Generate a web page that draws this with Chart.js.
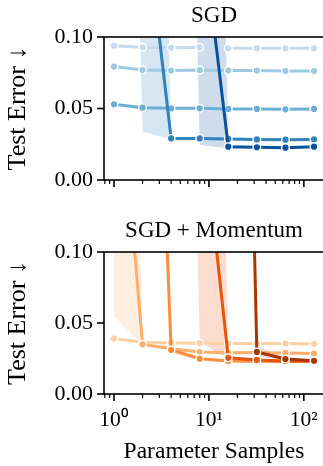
<!DOCTYPE html>
<html>
<head>
<meta charset="utf-8">
<script src="https://cdn.jsdelivr.net/npm/chart.js@4.4.1/dist/chart.umd.min.js"></script>
<style>
  html, body { margin: 0; padding: 0; background: #fff; overflow: hidden; }
  canvas { position: absolute; left: 0; }
  #sgd-chart { top: 0; }
  #momentum-chart { top: 218px; }
</style>
</head>
<body>
<canvas id="sgd-chart" width="330" height="200"></canvas>
<canvas id="momentum-chart" width="330" height="248"></canvas>
<script>
// number of parameter samples (x) for every run
const samples = [1, 2, 4, 8, 16, 32, 64, 128];

// SGD, test error per run (light -> dark)
const sgd1 = [0.0939, 0.0928, 0.0925, 0.0928, 0.0921, 0.0921, 0.0921, 0.0921];
const sgd2 = [0.0793, 0.0769, 0.0765, 0.0769, 0.0765, 0.0765, 0.0762, 0.0762];
const sgd3 = [0.0529, 0.0506, 0.0501, 0.0501, 0.0497, 0.0497, 0.0494, 0.0497];
const sgd4 = [0.9, 0.20, 0.0291, 0.0291, 0.0287, 0.0284, 0.0282, 0.0284];
const sgd5 = [0.9, 0.9, 0.9, 0.19, 0.0233, 0.0229, 0.0226, 0.0233];
// spread bands
const sgd4Lo = [0.9, 0.034, 0.0283, 0.0286, 0.0283, 0.0280, 0.0278, 0.0280];
const sgd4Hi = [0.9, 0.9, 0.0298, 0.0296, 0.0291, 0.0288, 0.0286, 0.0288];
const sgd5Lo = [0.9, 0.9, 0.9, 0.0245, 0.0222, 0.0223, 0.0220, 0.0227];
const sgd5Hi = [0.9, 0.9, 0.9, 0.9, 0.0244, 0.0235, 0.0232, 0.0239];

// SGD + Momentum
const mom1 = [0.039, 0.0365, 0.036, 0.0358, 0.0355, 0.0355, 0.0355, 0.0352];
const mom2 = [0.27, 0.035, 0.0318, 0.0295, 0.029, 0.0292, 0.0289, 0.0285];
const mom3 = [0.9, 0.54, 0.031, 0.0248, 0.0232, 0.0230, 0.0229, 0.0228];
const mom4 = [0.9, 0.9, 0.9, 0.21, 0.0255, 0.0240, 0.0232, 0.0232];
const mom5 = [0.9, 0.9, 0.9, 0.9, 0.9, 0.0296, 0.0246, 0.0234];
const mom2Lo = [0.055, 0.034, 0.0305, 0.0290, 0.0285, 0.0287, 0.0284, 0.0280];
const mom2Hi = [0.8, 0.036, 0.0330, 0.0300, 0.0295, 0.0297, 0.0294, 0.0290];
const mom3Lo = [0.9, 0.5, 0.029, 0.0235, 0.0225, 0.0225, 0.0224, 0.0223];
const mom3Hi = [0.9, 0.9, 0.033, 0.0260, 0.0240, 0.0235, 0.0234, 0.0233];
const mom4Lo = [0.9, 0.9, 0.9, 0.037, 0.0245, 0.0232, 0.0226, 0.0226];
const mom4Hi = [0.9, 0.9, 0.9, 0.9, 0.0268, 0.0248, 0.0238, 0.0238];
const mom5Lo = [0.9, 0.9, 0.9, 0.9, 0.9, 0.0270, 0.0235, 0.0226];
const mom5Hi = [0.9, 0.9, 0.9, 0.9, 0.9, 0.0335, 0.0260, 0.0242];

// axis ticks
const xMajorTicks = [1, 10, 100];
const xTickLabels = ['10⁰', '10¹', '10²'];
const xMinorTicks = [0.8, 0.9, 2, 3, 4, 5, 6, 7, 8, 9, 20, 30, 40, 50, 60, 70, 80, 90];
const yTicks = [0, 0.05, 0.1];

const blues = ['#c6dbef', '#9ecae1', '#6baed6', '#3182bd', '#08519c'];
const oranges = ['#fdd0a2', '#fdae6b', '#fd8d3c', '#e6550d', '#a63603'];

const FONT = "'Liberation Serif', 'Times New Roman', serif";
Chart.defaults.font.family = FONT;
Chart.defaults.color = '#000';
Chart.defaults.animation = false;

// 5% log margins like matplotlib
const span = Math.log10(samples[samples.length - 1]) - Math.log10(samples[0]);
const xMin = Math.pow(10, Math.log10(samples[0]) - 0.05 * span);
const xMax = Math.pow(10, Math.log10(samples[samples.length - 1]) + 0.05 * span);

const toPoints = ys => samples.map((x, i) => ({ x, y: ys[i] }));

function withAlpha(hex, a) {
    const n = parseInt(hex.slice(1), 16);
    return `rgba(${n >> 16},${(n >> 8) & 255},${n & 255},${a})`;
}

function lineSet(ys, color, order) {
    return {
        data: toPoints(ys),
        borderColor: color,
        backgroundColor: color,
        borderWidth: 3,
        pointRadius: 3.8,
        pointBorderWidth: 1.4,
        pointBackgroundColor: color,
        pointBorderColor: '#fff',
        fill: false,
        tension: 0,
        clip: 0,
        order
    };
}

function bandSets(lo, hi, color) {
    return [
        { data: toPoints(lo), borderWidth: 0, borderColor: 'rgba(0,0,0,0)', pointRadius: 0, fill: false, clip: 0, order: 10 },
        { data: toPoints(hi), borderWidth: 0, borderColor: 'rgba(0,0,0,0)', pointRadius: 0, fill: '-1',
          backgroundColor: withAlpha(color, 0.2), clip: 0, order: 10 }
    ];
}

// box, tick marks and panel title
const frame = {
    id: 'frame',
    afterDraw(chart, args, opts) {
        const { ctx, chartArea: a, scales: { x, y } } = chart;
        ctx.save();
        ctx.strokeStyle = '#000';
        ctx.lineWidth = 1.6;
        ctx.strokeRect(a.left, a.top, a.right - a.left, a.bottom - a.top);

        x.ticks.forEach(t => {
            const major = xMajorTicks.includes(t.value);
            const px = x.getPixelForValue(t.value);
            ctx.lineWidth = major ? 1.6 : 1.2;
            ctx.beginPath();
            ctx.moveTo(px, a.bottom);
            ctx.lineTo(px, a.bottom + (major ? 7 : 4));
            ctx.stroke();
        });
        ctx.lineWidth = 1.6;
        y.ticks.forEach(t => {
            const py = y.getPixelForValue(t.value);
            ctx.beginPath();
            ctx.moveTo(a.left, py);
            ctx.lineTo(a.left - 7, py);
            ctx.stroke();
        });

        ctx.fillStyle = '#000';
        ctx.font = `23px ${FONT}`;
        ctx.textAlign = 'center';
        ctx.textBaseline = 'alphabetic';
        ctx.fillText(opts.title, (a.left + a.right) / 2, a.top - 15);
        ctx.restore();
    }
};

function makeChart(id, title, datasets, withXLabels, xHeight, topPad) {
    return new Chart(document.getElementById(id), {
        type: 'line',
        data: { datasets },
        plugins: [frame],
        options: {
            responsive: false,
            layout: { padding: { top: topPad, right: 6, left: 0, bottom: 0 } },
            plugins: {
                legend: { display: false },
                tooltip: { enabled: false },
                frame: { title }
            },
            scales: {
                x: {
                    type: 'logarithmic',
                    min: xMin,
                    max: xMax,
                    afterBuildTicks: s => { s.ticks = [...xMinorTicks, ...xMajorTicks].sort((p, q) => p - q).map(v => ({ value: v })); },
                    afterFit: s => { s.height = xHeight; },
                    grid: { drawOnChartArea: false, drawTicks: true, tickLength: 7, color: 'rgba(0,0,0,0)' },
                    border: { display: false },
                    ticks: {
                        display: withXLabels,
                        autoSkip: false,
                        maxRotation: 0,
                        padding: 6,
                        font: { size: 21.5 },
                        callback: v => {
                            const i = xMajorTicks.indexOf(v);
                            return i < 0 ? '' : xTickLabels[i];
                        }
                    },
                    title: { display: withXLabels, text: 'Parameter Samples', font: { size: 23.5 }, padding: { top: 0, bottom: 0 } }
                },
                y: {
                    min: 0,
                    max: 0.1,
                    afterBuildTicks: s => { s.ticks = yTicks.map(v => ({ value: v })); },
                    afterFit: s => { s.width = 104; },
                    grid: { drawOnChartArea: false, drawTicks: true, tickLength: 7, color: 'rgba(0,0,0,0)' },
                    border: { display: false },
                    ticks: { padding: 4, font: { size: 22 }, callback: v => v.toFixed(2) },
                    title: { display: true, text: 'Test Error ↓', font: { size: 26 }, padding: { top: 3, bottom: 0 } }
                }
            }
        }
    });
}

makeChart('sgd-chart', 'SGD', [
    ...bandSets(sgd4Lo, sgd4Hi, blues[3]),
    ...bandSets(sgd5Lo, sgd5Hi, blues[4]),
    lineSet(sgd1, blues[0], 5),
    lineSet(sgd2, blues[1], 4),
    lineSet(sgd3, blues[2], 3),
    lineSet(sgd4, blues[3], 2),
    lineSet(sgd5, blues[4], 1)
], false, 20, 37);

makeChart('momentum-chart', 'SGD + Momentum', [
    ...bandSets(mom2Lo, mom2Hi, oranges[1]),
    ...bandSets(mom3Lo, mom3Hi, oranges[2]),
    ...bandSets(mom4Lo, mom4Hi, oranges[3]),
    ...bandSets(mom5Lo, mom5Hi, oranges[4]),
    lineSet(mom1, oranges[0], 5),
    lineSet(mom2, oranges[1], 4),
    lineSet(mom3, oranges[2], 3),
    lineSet(mom4, oranges[3], 2),
    lineSet(mom5, oranges[4], 1)
], true, 72, 34);
</script>
</body>
</html>
